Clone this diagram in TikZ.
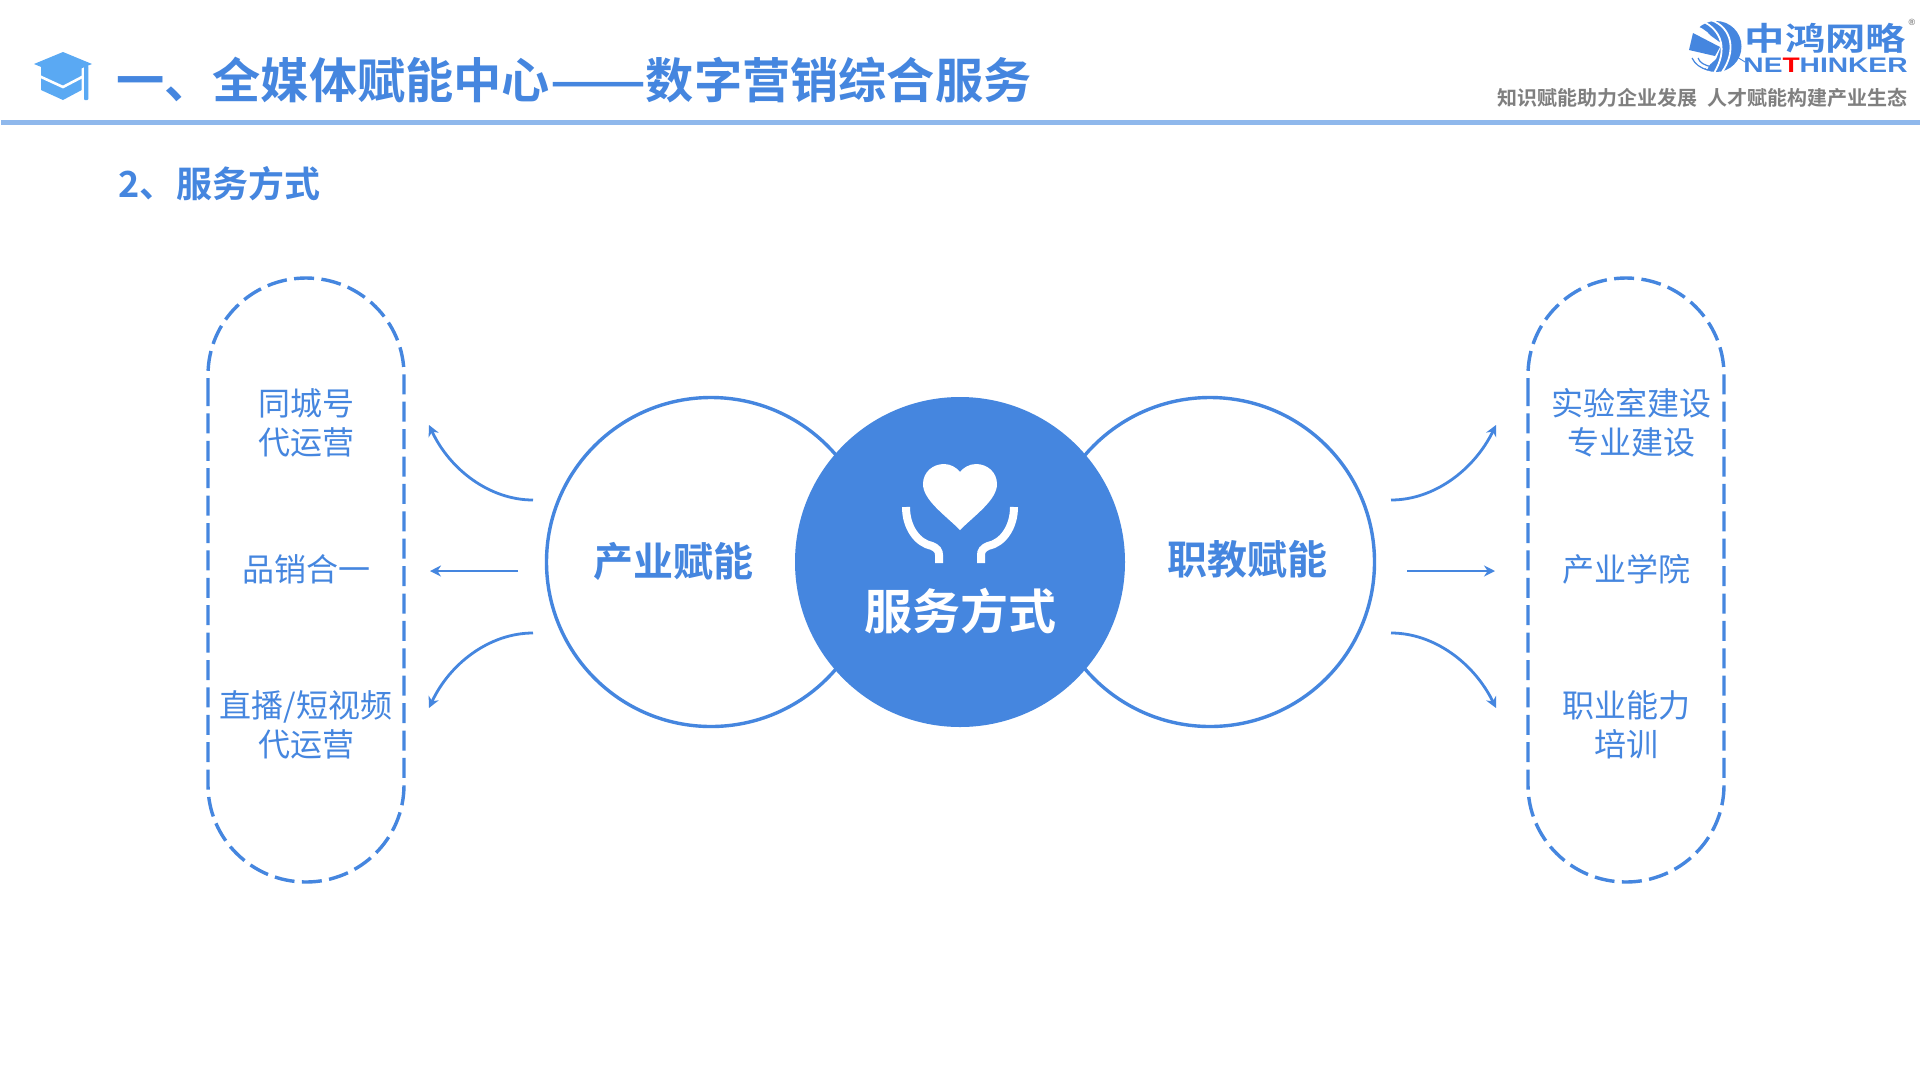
\documentclass[tikz,border=0pt]{standalone}
\usepackage{fontspec}
\usepackage{graphicx}
\setmainfont{Noto Sans CJK SC}
\newfontfamily\cjkb{Noto Sans CJK SC Bold}
\newfontfamily\latinb{Liberation Sans Bold}
\usetikzlibrary{arrows.meta}
\definecolor{mainblue}{HTML}{4586DF}
\definecolor{barblue}{HTML}{8FB8EC}
\definecolor{capblue}{HTML}{5AA9F3}
\definecolor{sloganGray}{HTML}{7F7F7F}
\tikzset{
  x=1pt,y=-1pt,
  ring/.style={draw=mainblue,line width=3.4pt,fill=white,circle,minimum size=329pt,inner sep=0pt},
  stadium/.style={draw=mainblue,line width=3.4pt,dash pattern=on 20pt off 7.4pt},
  conn/.style={draw=mainblue,line width=2.8pt,-{Stealth[length=11pt,width=11pt]}},
  item/.style={text=mainblue,font=\fontsize{32}{39}\selectfont,align=center,inner sep=0pt},
  hub/.style={text=mainblue,font=\fontsize{40}{44}\cjkb,inner sep=0pt},
}
\begin{document}
\begin{tikzpicture}
\useasboundingbox (0,0) rectangle (1920,1080);
\fill[white] (0,0) rectangle (1920,1080);
% header
\fill[barblue] (1,120) rectangle (1920,125);
\fill[capblue] (34,64) -- (63,52) -- (92,64) -- (63,76) -- cycle;
\fill[capblue] (41,66) -- (81.7,66) -- (81.7,90) -- (63,100) -- (41,90) -- cycle;
\fill[capblue,rounded corners=1pt] (84,65.5) rectangle (88.3,100);
\draw[white,line width=2.6pt] (39,76) -- (63,87) -- (83,76.5);
\node[anchor=west,text=mainblue,font=\fontsize{48.2}{48}\cjkb,inner sep=0pt] (title) at (116,80) {一、全媒体赋能中心\scalebox{1.17}[1]{——}数字营销综合服务};
\node[anchor=west,text=mainblue,font=\fontsize{36}{36}\cjkb,inner sep=0pt] (sub) at (118,184) {2、\hspace{1.5pt}服务方式};
% logo
\node[text=mainblue,font=\fontsize{32}{32}\cjkb,inner sep=0pt,xscale=1.26] (lg) at (1825.5,38) {中鸿网略};
\node[text=mainblue,font=\fontsize{21}{21}\latinb,inner sep=0pt,xscale=1.34] (lg2) at (1825.5,65) {NE\textcolor{red}{T}HINKER};
\node[text=sloganGray,font=\fontsize{9}{9}\latinb,inner sep=0pt] (reg) at (1912,22) {®};
\node[anchor=east,text=sloganGray,font=\fontsize{20}{20}\cjkb,inner sep=0pt] (slogan) at (1908,98) {知识赋能助力企业发展\hspace{10pt}人才赋能构建产业生态};
\fill[mainblue] (1716,46.5) circle[radius=25.5];
\draw[white,line width=1.8pt] (1702,21) .. controls (1722,30) and (1728,50) .. (1714,73);
\draw[white,line width=1.8pt] (1711,20) .. controls (1733,28) and (1736,52) .. (1722,72);
\draw[white,line width=1.6pt] (1697,27) .. controls (1712,33) and (1720,45) .. (1706,70);
\fill[white] (1686,24) -- (1700,28) -- (1722,44) -- (1716,59) -- (1706,68) -- (1690,75) -- (1684,60) -- cycle;
\fill[mainblue] (1693,33) -- (1720,47) -- (1715,56) -- (1689,50) -- cycle;
\draw[mainblue,line width=1.2pt] (1692,58) .. controls (1695,64) and (1700,68) .. (1708,70);
\draw[mainblue,line width=1.2pt] (1698,58) .. controls (1700,63) and (1704,65) .. (1712,67);
\draw[mainblue,line width=0.9pt] (1737,57) -- (1745,62);
% stadiums
\draw[stadium] (208,386) -- (208,785) arc (180:0:98 and 97) -- (404,375) arc (360:180:98 and 97) -- cycle;
\draw[stadium] (1528,386) -- (1528,785) arc (180:0:98 and 97) -- (1724,375) arc (360:180:98 and 97) -- cycle;
% circles
\node[ring] (L) at (711,562) {};
\node[ring] (R) at (1210,562) {};
\node[circle,fill=mainblue,minimum size=330pt,inner sep=0pt] (C) at (960,562) {};
% heart
\fill[white] (960,530) .. controls (945,515) and (923,500) .. (923,484) .. controls (923,472) and (933,464) .. (944,464) .. controls (951,464) and (957,468) .. (960,472) .. controls (963,468) and (969,464) .. (976,464) .. controls (987,464) and (997,472) .. (997,484) .. controls (997,500) and (975,515) .. (960,530) -- cycle;
\draw[white,line width=8pt] (906,507) .. controls (906,527) and (917,543) .. (932,546) .. controls (937,548) and (939,551) .. (939,555) -- (939,563);
\draw[white,line width=8pt] (1014,507) .. controls (1014,527) and (1003,543) .. (988,546) .. controls (983,548) and (981,551) .. (981,555) -- (981,563);
\node[text=white,font=\fontsize{48}{48}\cjkb,inner sep=0pt] (Ct) at (960,611) {服务方式};
\node[hub] (Lt) at (673,561) {产业赋能};
\node[hub] (Rt) at (1247,559) {职教赋能};
% items
\node[item] (a1) at (306,423) {同城号\\代运营};
\node[item] (a2) at (306,569) {品销合一};
\node[item] (a3) at (306,725) {直播/短视频\\代运营};
\node[item] (b1) at (1631,423) {实验室建设\\专业建设};
\node[item] (b2) at (1626,569) {产业学院};
\node[item] (b3) at (1626,725) {职业能力\\培训};
% arrows
\coordinate (la1) at (533,500); \coordinate (la2) at (518,571); \coordinate (la3) at (533,633);
\coordinate (lb1) at (429,425); \coordinate (lb2) at (430,571); \coordinate (lb3) at (429,708);
\coordinate (ra1) at (1391,500); \coordinate (ra2) at (1407,571); \coordinate (ra3) at (1391,633);
\coordinate (rb1) at (1496,425); \coordinate (rb2) at (1495,571); \coordinate (rb3) at (1496,708);
\draw[conn] (la1) .. controls (490,500) and (450,470) .. (lb1);
\draw[conn] (la2) -- (lb2);
\draw[conn] (la3) .. controls (490,633) and (450,663) .. (lb3);
\draw[conn] (ra1) .. controls (1434,500) and (1474,470) .. (rb1);
\draw[conn] (ra2) -- (rb2);
\draw[conn] (ra3) .. controls (1434,633) and (1474,663) .. (rb3);
\end{tikzpicture}
\end{document}
